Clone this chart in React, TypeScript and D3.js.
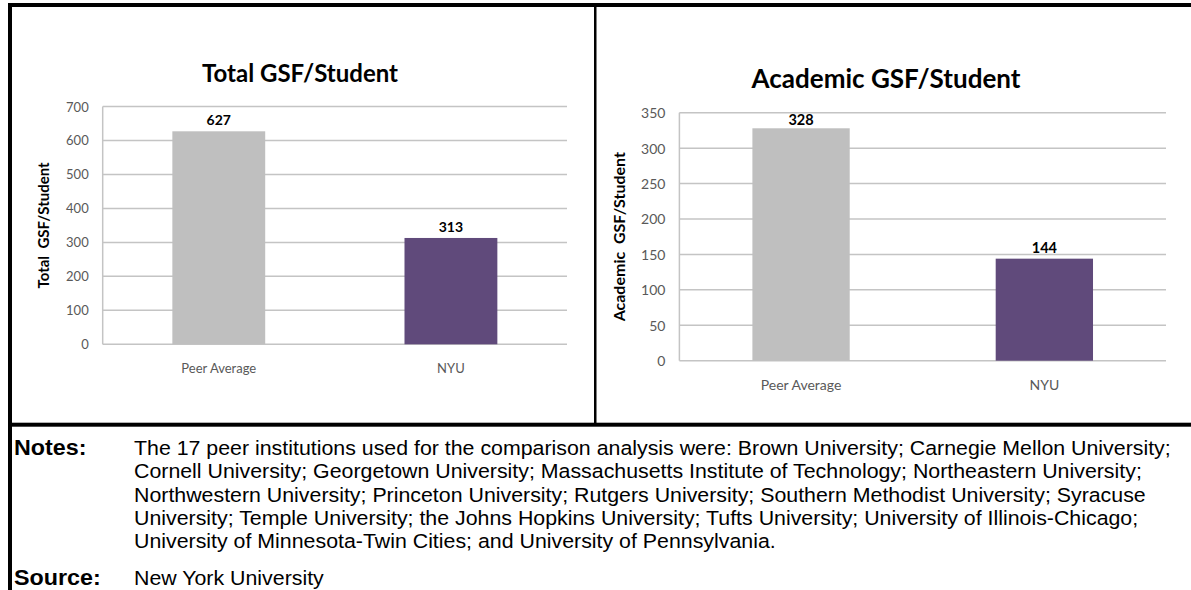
import React from "react";
import * as d3 from "d3";

const categories = ["Peer Average", "NYU"];
const totalValues = [627, 313];
const academicValues = [328, 144];
const totalTicks = [0, 100, 200, 300, 400, 500, 600, 700];
const academicTicks = [0, 50, 100, 150, 200, 250, 300, 350];
const barColors = ["#BFBFBF", "#604A7B"];

const noteLines = [
  "The 17 peer institutions used for the comparison analysis were: Brown University; Carnegie Mellon University;",
  "Cornell University; Georgetown University; Massachusetts Institute of Technology; Northeastern University;",
  "Northwestern University; Princeton University; Rutgers University; Southern Methodist University; Syracuse",
  "University; Temple University; the Johns Hopkins University; Tufts University; University of Illinois-Chicago;",
  "University of Minnesota-Twin Cities; and University of Pennsylvania.",
];
const sourceText = "New York University";

const chartFont = "Lato, 'Open Sans', sans-serif";
const noteFont = "'Liberation Sans', Arial, sans-serif";
// the scanned notes are a little wider than plain Arial
const noteStretch = 1.084;

interface PanelProps {
  title: string;
  axisLabel: string;
  values: number[];
  ticks: number[];
  left: number;
  right: number;
  top: number;
  bottom: number;
  titleX: number;
  titleY: number;
  titleSize: number;
  labelX: number;
  labelSize: number;
  tickSize: number;
  catSize: number;
  valueSize: number;
}

function BarPanel({
  title,
  axisLabel,
  values,
  ticks,
  left,
  right,
  top,
  bottom,
  titleX,
  titleY,
  titleSize,
  labelX,
  labelSize,
  tickSize,
  catSize,
  valueSize,
}: PanelProps) {
  const x = d3
    .scaleBand<string>()
    .domain(categories)
    .range([left, right])
    .paddingInner(0.6)
    .paddingOuter(0.3);
  const y = d3
    .scaleLinear()
    .domain([0, d3.max(ticks)!])
    .range([bottom, top]);

  return (
    <g>
      <text
        x={titleX}
        y={titleY}
        textAnchor="middle"
        fontFamily={chartFont}
        fontWeight="bold"
        fontSize={titleSize}
        fill="#000"
      >
        {title}
      </text>

      {ticks.map(t => (
        <g key={t}>
          <line x1={left} x2={right} y1={y(t)} y2={y(t)} stroke="#C4C4C4" strokeWidth={1.5} />
          <text
            x={left - 14}
            y={y(t)}
            textAnchor="end"
            dominantBaseline="central"
            fontFamily={chartFont}
            fontSize={tickSize}
            fill="#595959"
          >
            {t}
          </text>
        </g>
      ))}
      <line x1={left} x2={left} y1={top} y2={bottom} stroke="#C4C4C4" strokeWidth={1.5} />

      {values.map((v, i) => {
        const cx = x(categories[i])! + x.bandwidth() / 2;
        // Excel keeps the label inside the plot area
        const labelY = Math.max(y(v) - 6, top + 12);
        return (
          <g key={categories[i]}>
            <rect
              x={x(categories[i])}
              y={y(v)}
              width={x.bandwidth()}
              height={bottom - y(v)}
              fill={barColors[i]}
            />
            <text
              x={cx}
              y={labelY}
              textAnchor="middle"
              fontFamily={chartFont}
              fontWeight="bold"
              fontSize={valueSize}
              fill="#000"
            >
              {v}
            </text>
            <text
              x={cx}
              y={bottom + 29}
              textAnchor="middle"
              fontFamily={chartFont}
              fontSize={catSize}
              fill="#595959"
            >
              {categories[i]}
            </text>
          </g>
        );
      })}

      <text
        transform={`translate(${labelX},${(top + bottom) / 2}) rotate(-90)`}
        textAnchor="middle"
        fontFamily={chartFont}
        fontWeight="bold"
        fontSize={labelSize}
        fill="#000"
        style={{ whiteSpace: "pre" }}
      >
        {axisLabel}
      </text>
    </g>
  );
}

export default function App() {
  const width = 1191;
  const height = 590;

  return (
    <svg
      width={width}
      height={height}
      style={{ position: "absolute", left: 0, top: 0, background: "#fff" }}
    >
      <rect width={width} height={height} fill="#fff" />

      <BarPanel
        title="Total GSF/Student"
        axisLabel="Total  GSF/Student"
        values={totalValues}
        ticks={totalTicks}
        left={102.7}
        right={567}
        top={106.5}
        bottom={344.3}
        titleX={300}
        titleY={81.7}
        titleSize={24}
        labelX={49}
        labelSize={15}
        tickSize={13}
        catSize={13}
        valueSize={14}
      />
      <BarPanel
        title="Academic GSF/Student"
        axisLabel="Academic  GSF/Student"
        values={academicValues}
        ticks={academicTicks}
        left={679.4}
        right={1166}
        top={112.7}
        bottom={360.7}
        titleX={886}
        titleY={88.3}
        titleSize={26}
        labelX={625}
        labelSize={16}
        tickSize={14}
        catSize={14}
        valueSize={14.5}
      />

      {/* table borders */}
      <rect x={8} y={3} width={4} height={height - 3} fill="#000" />
      <rect x={8} y={3} width={width - 8} height={4} fill="#000" />
      <rect x={594} y={3} width={2.5} height={421} fill="#000" />
      <rect x={8} y={422.7} width={width - 8} height={4} fill="#000" />

      {/* notes */}
      <g transform={`scale(${noteStretch},1)`}>
        <text
          x={14 / noteStretch}
          y={455}
          fontFamily={noteFont}
          fontWeight="bold"
          fontSize={21.5}
          fill="#000"
        >
          Notes:
        </text>
        {noteLines.map((line, i) => (
          <text
            key={i}
            x={134 / noteStretch}
            y={455 + i * 23.3}
            fontFamily={noteFont}
            fontSize={19.7}
            fill="#000"
          >
            {line}
          </text>
        ))}
        <text
          x={14 / noteStretch}
          y={585}
          fontFamily={noteFont}
          fontWeight="bold"
          fontSize={21.5}
          fill="#000"
        >
          Source:
        </text>
        <text x={134 / noteStretch} y={585} fontFamily={noteFont} fontSize={19.7} fill="#000">
          {sourceText}
        </text>
      </g>
    </svg>
  );
}
